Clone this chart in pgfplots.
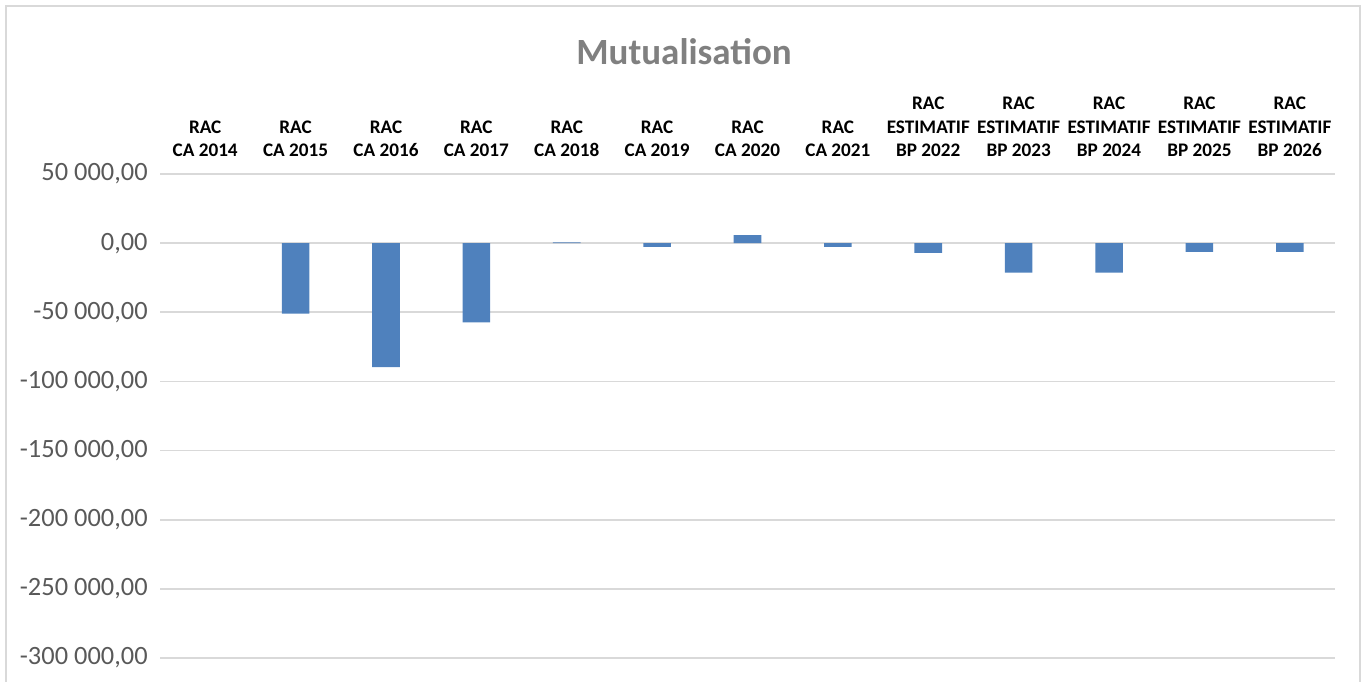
\documentclass[border=0pt]{standalone}
\usepackage{fontspec}
\setmainfont{Carlito}
\usepackage{pgfplots}
\pgfplotsset{compat=1.18}
\definecolor{barblue}{HTML}{4F81BD}
\definecolor{gridgray}{HTML}{D9D9D9}
\definecolor{tickgray}{HTML}{595959}
\definecolor{titlegray}{HTML}{808080}
\begin{document}
\begin{tikzpicture}
\path[use as bounding box] (0,0) rectangle (684pt,340.5pt);
\draw[color=gridgray, line width=0.8pt] (3pt,-2pt) -- (3pt,337.5pt) -- (680pt,337.5pt) -- (680pt,-2pt);
\node[font=\fontsize{18.5}{22}\selectfont\bfseries, color=titlegray] at (342pt,314.5pt) {Mutualisation};
\begin{axis}[
  at={(80pt,11.5pt)}, anchor=south west,
  scale only axis, width=587.5pt, height=242pt,
  xmin=-0.5, xmax=12.5, ymin=-300000, ymax=50000,
  scaled y ticks=false,
  axis line style={draw=none},
  major tick length=0pt,
  ymajorgrids, grid style={color=gridgray, line width=0.9pt},
  ytick={-300000,-250000,-200000,-150000,-100000,-50000,0,50000},
  yticklabels={{-300 000,00},{-250 000,00},{-200 000,00},{-150 000,00},{-100 000,00},{-50 000,00},{0,00},{50 000,00}},
  yticklabel style={font=\fontsize{13.2}{16}\selectfont, color=tickgray, anchor=east, inner xsep=0pt, xshift=-6pt},
  xtick={0,...,12},
  xticklabels={{RAC\\CA 2014},{RAC\\CA 2015},{RAC\\CA 2016},{RAC\\CA 2017},{RAC\\CA 2018},{RAC\\CA 2019},{RAC\\CA 2020},{RAC\\CA 2021},{RAC\\ESTIMATIF\\BP 2022},{RAC\\ESTIMATIF\\BP 2023},{RAC\\ESTIMATIF\\BP 2024},{RAC\\ESTIMATIF\\BP 2025},{RAC\\ESTIMATIF\\BP 2026}},
  xticklabel pos=upper,
  xticklabel style={font=\fontsize{9.6}{11.7}\selectfont\bfseries, align=center, anchor=south, inner ysep=0pt, yshift=8.5pt},
  ybar, bar width=13.8pt,
  clip=false,
]
\addplot[fill=barblue, draw=none] coordinates {
(1,-51000) (2,-89700) (3,-57300) (4,500) (5,-2700) (6,5800) (7,-2700)
(8,-7000) (9,-21300) (10,-21300) (11,-6300) (12,-6300)
};
\end{axis}
\end{tikzpicture}
\end{document}
